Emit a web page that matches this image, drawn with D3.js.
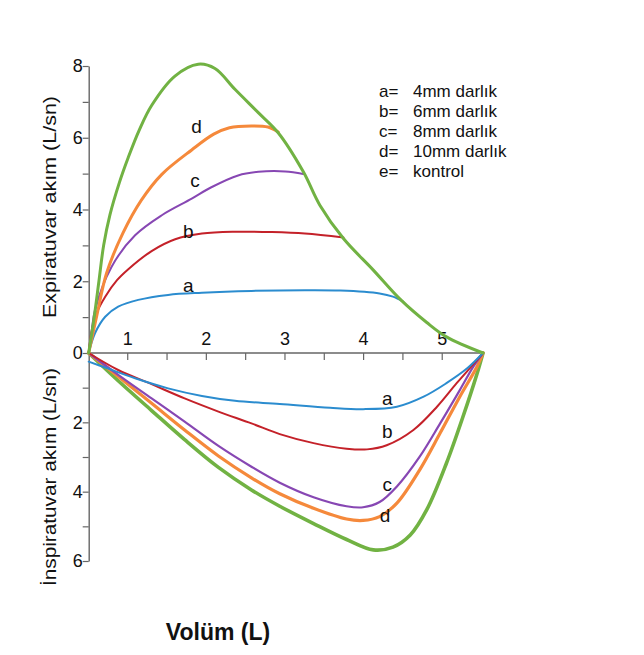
<!DOCTYPE html>
<html>
<head>
<meta charset="utf-8">
<script src="https://cdn.jsdelivr.net/npm/d3@7"></script>
<style>
  body { margin: 0; background: #fff; }
  text { font-family: "Liberation Sans", Arial, sans-serif; fill: #111; }
</style>
</head>
<body>
<div id="chart"></div>
<script>
// volume (L), flow (L/sn): positive = expiratory, negative = inspiratory
const expA = [[0.51,0],[0.59,0.55],[0.72,1.01],[0.885,1.29],[1.14,1.48],[1.52,1.62],[1.95,1.68],[2.58,1.73],[3.26,1.75],[3.71,1.74],[4.21,1.66],[4.38,1.57],[4.51,1.43]];
const expB = [[0.51,0],[0.55,0.64],[0.61,1.11],[0.72,1.57],[0.87,2.03],[1.01,2.33],[1.31,2.84],[1.61,3.17],[1.95,3.33],[2.37,3.38],[2.84,3.37],[3.26,3.33],[3.75,3.22]];
const expC = [[0.51,0],[0.55,0.64],[0.59,1.2],[0.8,2.4],[1.1,3.28],[1.44,3.84],[1.82,4.3],[2.07,4.62],[2.41,4.95],[2.67,5.05],[3.01,5.06],[3.24,4.99]];
const expD = [[0.51,0],[0.61,1.01],[0.738,2.23],[0.945,3.34],[1.18,4.26],[1.44,4.98],[1.82,5.66],[2.1,6.1],[2.3,6.28],[2.58,6.33],[2.79,6.3],[2.92,6.16]];
const expE = [[0.51,0],[0.58,1.0],[0.64,2.0],[0.7,3.0],[0.78,3.85],[0.9,4.75],[1.013,5.45],[1.15,6.2],[1.31,6.9],[1.607,7.72],[1.903,8.05],[2.116,7.93],[2.37,7.35],[2.667,6.7],[2.92,6.14],[3.24,5.05],[3.45,4.12],[3.75,3.19],[4.13,2.31],[4.47,1.5],[4.81,0.85],[5.06,0.45],[5.525,0]];

const insA = [[0.51,-0.25],[0.72,-0.42],[1.1,-0.73],[1.52,-1.02],[1.95,-1.24],[2.37,-1.38],[2.94,-1.47],[3.58,-1.58],[4.0,-1.62],[4.43,-1.55],[4.77,-1.26],[5.06,-0.87],[5.32,-0.45],[5.525,0]];
const insB = [[0.51,0],[0.885,-0.49],[1.31,-0.9],[1.73,-1.31],[2.16,-1.69],[2.58,-2.03],[2.94,-2.34],[3.37,-2.6],[3.79,-2.76],[4.05,-2.78],[4.3,-2.66],[4.64,-2.22],[4.94,-1.55],[5.19,-0.87],[5.4,-0.33],[5.525,0]];
const insC = [[0.51,0],[0.885,-0.63],[1.31,-1.31],[1.73,-1.98],[2.16,-2.68],[2.58,-3.28],[2.94,-3.74],[3.37,-4.16],[3.79,-4.42],[4.0,-4.45],[4.21,-4.3],[4.43,-3.85],[4.72,-2.99],[4.98,-2.03],[5.23,-1.07],[5.4,-0.4],[5.525,0]];
const insD = [[0.51,0],[0.885,-0.68],[1.31,-1.45],[1.73,-2.22],[2.16,-2.97],[2.58,-3.6],[2.94,-4.06],[3.37,-4.48],[3.79,-4.79],[4.0,-4.83],[4.21,-4.72],[4.43,-4.33],[4.72,-3.37],[4.98,-2.31],[5.23,-1.26],[5.45,-0.39],[5.525,0]];
const insE = [[0.51,0],[0.885,-0.8],[1.31,-1.66],[1.73,-2.5],[2.16,-3.3],[2.58,-3.95],[2.94,-4.42],[3.37,-4.92],[3.79,-5.38],[4.13,-5.68],[4.38,-5.6],[4.6,-5.25],[4.81,-4.52],[5.06,-3.18],[5.27,-1.84],[5.45,-0.59],[5.525,0]];

const volumeTicks = [1, 1.5, 2, 2.5, 3, 3.5, 4, 4.5, 5];
const flowTicks = [-6, -5, -4, -3, -2, -1, 0, 1, 2, 3, 4, 5, 6, 7, 8];

const legendKeys = ['a=', 'b=', 'c=', 'd=', 'e='];
const legendNames = ['4mm darlık', '6mm darlık', '8mm darlık', '10mm darlık', 'kontrol'];

const colors = { a: '#2b8ccf', b: '#c42129', c: '#8747b3', d: '#f5893b', e: '#71b243' };

const width = 644, height = 655;

const svg = d3.select('#chart').append('svg')
  .attr('width', width)
  .attr('height', height);

const x = d3.scaleLinear().domain([0.51, 5.525]).range([88.7, 483]);
const y = d3.scaleLinear().domain([-6, 0, 8]).range([561, 353, 66]);

// axes
const xAxis = svg.append('g')
  .attr('transform', `translate(0,${y(0)})`)
  .call(d3.axisBottom(x)
    .tickValues(volumeTicks)
    .tickSize(7)
    .tickSizeOuter(0)
    .tickFormat(d => Number.isInteger(d) ? d : ''));
xAxis.select('.domain').attr('stroke', '#666').attr('stroke-width', 1.4).attr('d', `M${x(0.51)},0H${x(5.49)}`);
xAxis.selectAll('.tick line').attr('stroke', '#666').attr('stroke-width', 1.2);
xAxis.selectAll('.tick text')
  .attr('y', -8).attr('dy', 0)
  .style('font-size', '18px')
  .style('font-family', '"Liberation Sans", Arial, sans-serif')
  .attr('fill', '#111');

const yAxis = svg.append('g')
  .attr('transform', `translate(${x(0.51)},0)`)
  .call(d3.axisLeft(y)
    .tickValues(flowTicks)
    .tickSize(6)
    .tickSizeOuter(0)
    .tickFormat(d => d % 2 === 0 ? Math.abs(d) : ''));
yAxis.select('.domain').attr('stroke', '#666').attr('stroke-width', 1.4);
yAxis.selectAll('.tick line').attr('stroke', '#666').attr('stroke-width', 1.2);
yAxis.selectAll('.tick text')
  .attr('x', -6)
  .style('font-size', '18px')
  .style('font-family', '"Liberation Sans", Arial, sans-serif')
  .attr('fill', '#111');

// curves
const line = d3.line()
  .x(d => x(d[0]))
  .y(d => y(d[1]))
  .curve(d3.curveCatmullRom.alpha(0.5));

const series = [
  { data: insE, key: 'e', w: 3.6 },
  { data: insD, key: 'd', w: 3.2 },
  { data: insC, key: 'c', w: 2.2 },
  { data: insB, key: 'b', w: 2 },
  { data: insA, key: 'a', w: 2 },
  { data: expA, key: 'a', w: 2 },
  { data: expB, key: 'b', w: 2 },
  { data: expC, key: 'c', w: 2 },
  { data: expD, key: 'd', w: 3 },
  { data: expE, key: 'e', w: 3 }
];

svg.append('g').selectAll('path')
  .data(series)
  .enter()
  .append('path')
  .attr('d', d => line(d.data))
  .attr('fill', 'none')
  .attr('stroke', d => colors[d.key])
  .attr('stroke-width', d => d.w)
  .attr('stroke-linejoin', 'round')
  .attr('stroke-linecap', 'round');

// curve letters
const curveLabels = [
  { t: 'd', v: 1.883, f: 6.12 },
  { t: 'c', v: 1.861, f: 4.64 },
  { t: 'b', v: 1.776, f: 3.2 },
  { t: 'a', v: 1.776, f: 1.71 },
  { t: 'a', v: 4.308, f: -1.5 },
  { t: 'b', v: 4.308, f: -2.45 },
  { t: 'c', v: 4.308, f: -3.99 },
  { t: 'd', v: 4.279, f: -4.87 }
];
svg.append('g').selectAll('text')
  .data(curveLabels)
  .enter()
  .append('text')
  .attr('x', d => x(d.v))
  .attr('y', d => y(d.f))
  .attr('text-anchor', 'middle')
  .style('font-size', '19px')
  .text(d => d.t);

// legend
const legend = svg.append('g').attr('transform', 'translate(379,97)');
legend.selectAll('.key')
  .data(legendKeys)
  .enter()
  .append('text')
  .attr('class', 'key')
  .attr('x', 0)
  .attr('y', (d, i) => i * 20)
  .style('font-size', '17px')
  .text(d => d);
legend.selectAll('.name')
  .data(legendNames)
  .enter()
  .append('text')
  .attr('class', 'name')
  .attr('x', 34)
  .attr('y', (d, i) => i * 20)
  .style('font-size', '17px')
  .text(d => d);

// axis titles
svg.append('text')
  .attr('transform', 'translate(56,207) rotate(-90)')
  .attr('text-anchor', 'middle')
  .attr('textLength', 222)
  .attr('lengthAdjust', 'spacingAndGlyphs')
  .style('font-size', '19px')
  .text('Expiratuvar akım (L/sn)');

svg.append('text')
  .attr('transform', 'translate(56,477) rotate(-90)')
  .attr('text-anchor', 'middle')
  .attr('textLength', 218)
  .attr('lengthAdjust', 'spacingAndGlyphs')
  .style('font-size', '19px')
  .text('İnspiratuvar akım (L/sn)');

svg.append('text')
  .attr('x', 218)
  .attr('y', 640)
  .attr('text-anchor', 'middle')
  .style('font-size', '23px')
  .style('font-weight', 'bold')
  .text('Volüm (L)');
</script>
</body>
</html>
